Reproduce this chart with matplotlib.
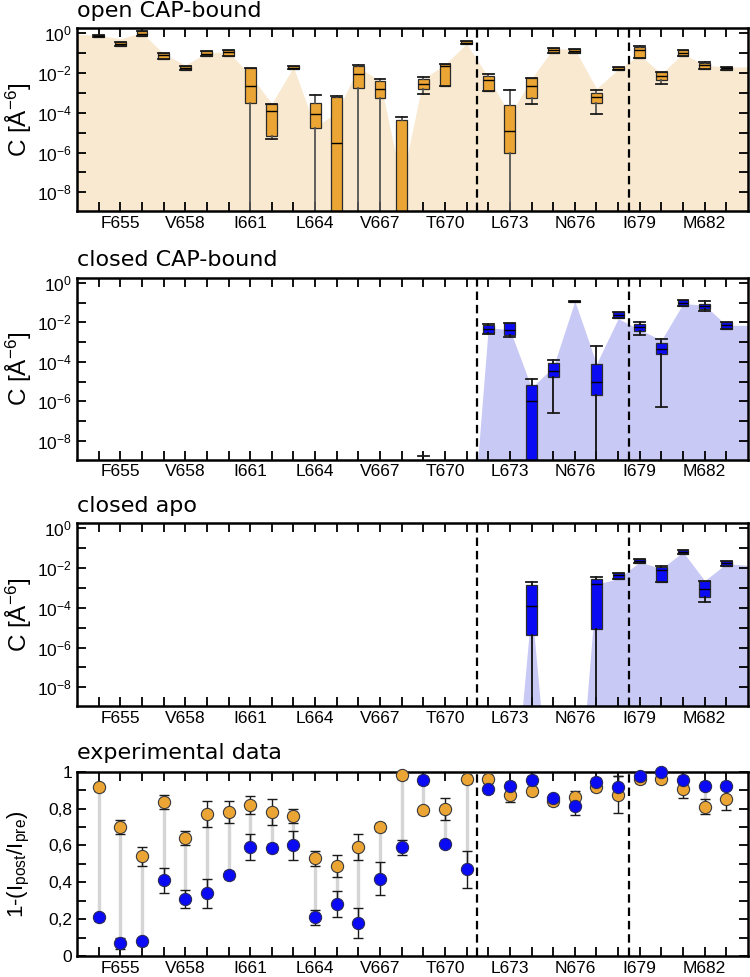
import numpy as np
import matplotlib
matplotlib.use("Agg")
import matplotlib.pyplot as plt
from matplotlib.ticker import FixedLocator, FuncFormatter, MultipleLocator

plt.rcParams['font.family'] = ['Liberation Sans', 'DejaVu Sans']
plt.rcParams['mathtext.fontset'] = 'custom'
plt.rcParams['mathtext.rm'] = 'Liberation Sans'
plt.rcParams['mathtext.it'] = 'Liberation Sans:italic'
plt.rcParams['mathtext.bf'] = 'Liberation Sans:bold'

# ---------------- data ----------------
residues = list(range(654, 684))            # box / point positions
area_residues = list(range(653, 685))       # shaded profile positions
label_residues = [655, 658, 661, 664, 667, 670, 673, 676, 679, 682]
label_names = ['F655', 'V658', 'I661', 'L664', 'V667', 'T670', 'L673', 'N676', 'I679', 'M682']
boundaries = [671.5, 678.5]
titles = ['open CAP-bound', 'closed CAP-bound', 'closed apo', 'experimental data']

N = None
# box statistics, log10 of C [Å^-6]; -20 = below the axis
open_med = [-0.13, -0.53, -0.02, -1.07, -1.72, -1.02, -0.94, -2.63, -3.89, -1.72, -4.04, -5.53, -2.03, -2.78, -12,
            -2.53, -1.66, -0.47, -2.33, -4.92, -2.65, -0.85, -0.87, -3.2, -1.77, -0.85, -2.14, -1.0, -1.61, -1.75]
open_q1 = [-0.16, -0.62, -0.13, -1.27, -1.83, -1.14, -1.16, -3.5, -5.18, -1.79, -4.74, -20, -2.73, -3.23, -20,
           -2.78, -2.66, -0.54, -2.91, -6.0, -3.25, -0.99, -0.99, -3.48, -1.86, -1.22, -2.36, -1.16, -1.79, -1.83]
open_q3 = [-0.1, -0.43, 0.1, -1.0, -1.64, -0.9, -0.85, -1.74, -3.55, -1.66, -3.48, -3.2, -1.64, -2.41, -4.34,
           -2.28, -1.56, -0.4, -2.16, -3.63, -2.24, -0.74, -0.77, -3.0, -1.69, -0.69, -1.94, -0.85, -1.47, -1.68]
open_wlo = [-0.16, -0.62, -0.13, -1.27, -1.83, -1.14, -1.16, -20, -5.33, -1.79, -20, -20, -20, -20, -20,
            -3.07, -2.66, -0.54, -2.91, -20, -3.57, -0.99, -0.99, -4.04, -1.86, -1.22, -2.53, -1.16, -1.79, -1.83]
open_whi = [-0.1, -0.43, 0.1, -1.0, -1.64, -0.9, -0.85, -1.74, -3.55, -1.66, -3.1, -3.15, -1.57, -2.28, -4.2,
            -2.19, -1.52, -0.4, -2.04, -2.86, -2.24, -0.74, -0.77, -2.83, -1.69, -0.64, -1.94, -0.85, -1.44, -1.68]
open_area = [-0.05, -0.1, -0.27, 0.03, -1.02, -1.6, -0.97, -0.94, -2.1, -3.53, -1.7, -4.7, -4.0, -1.7, -2.4, -7.5,
             -2.28, -1.57, -0.52, -2.2, -4.1, -2.28, -0.77, -0.8, -2.78, -1.81, -1.1, -2.03, -1.02, -1.6, -1.69, -1.69]

closed_med = [N]*15 + [-12, N, N, -2.32, -2.37, -6.0, -4.44, -0.92, -5.03, -1.64, -2.24, -3.34, -1.0, -1.17, -2.15]
closed_q1 = [N]*15 + [-12, N, N, -2.54, -2.63, -20, -4.76, -0.95, -5.69, -1.78, -2.44, -3.59, -1.15, -1.3, -2.32]
closed_q3 = [N]*15 + [-12, N, N, -2.15, -2.03, -5.15, -4.05, -0.9, -4.12, -1.47, -2.07, -3.05, -0.88, -1.05, -1.98]
closed_wlo = [N]*15 + [-12, N, N, -2.6, -2.75, -20, -6.6, -0.95, -20, -1.78, -2.63, -6.3, -1.15, -1.41, -2.32]
closed_whi = [N]*15 + [-8.75, N, N, -2.1, -2.03, -4.88, -3.9, -0.9, -3.22, -1.47, -1.97, -2.86, -0.88, -0.93, -1.98]
closed_area = [N]*19 + [-2.27, -2.37, -5.3, -4.27, -0.92, -4.1, -1.81, -2.37, -2.9, -1.05, -1.13, -2.15, -2.15]

apo_med = [N]*20 + [-3.9, N, N, -2.8, -2.37, -1.63, -2.12, -1.19, -3.05, -1.75]
apo_q1 = [N]*20 + [-5.39, N, N, -5.05, -2.54, -1.75, -2.71, -1.29, -3.47, -1.88]
apo_q3 = [N]*20 + [-2.85, N, N, -2.54, -2.25, -1.53, -1.92, -1.1, -2.66, -1.66]
apo_wlo = [N]*20 + [-20, N, N, -20, -2.54, -1.75, -2.71, -1.29, -3.73, -1.88]
apo_whi = [N]*20 + [-2.68, N, N, -2.46, -2.25, -1.53, -1.9, -1.1, -2.64, -1.66]
apo_area = [N]*21 + [-3.9, N, N, -2.8, -2.54, -1.69, -2.03, -1.19, -2.63, -1.78, -1.86]

exp_open = [0.915, 0.70, 0.54, 0.835, 0.64, 0.77, 0.78, 0.82, 0.78, 0.76, 0.53, 0.49, 0.59, 0.70, 0.98,
            0.79, 0.80, 0.96, 0.96, 0.875, 0.895, 0.84, 0.865, 0.915, 0.875, 0.96, 0.96, 0.905, 0.81, 0.85]
exp_open_err = [0.02, 0.04, 0.05, 0.04, 0.04, 0.07, 0.06, 0.05, 0.07, 0.04, 0.04, 0.06, 0.07, 0.02, 0.02,
                0.02, 0.06, 0.02, 0.02, 0.04, 0.02, 0.02, 0.03, 0.02, 0.10, 0.02, 0.02, 0.05, 0.04, 0.06]
exp_closed = [0.21, 0.07, 0.08, 0.41, 0.31, 0.34, 0.44, 0.59, 0.585, 0.60, 0.21, 0.28, 0.18, 0.42, 0.59,
              0.955, 0.61, 0.47, 0.905, 0.925, 0.955, 0.855, 0.815, 0.945, 0.915, 0.975, 0.996, 0.955, 0.925, 0.925]
exp_closed_err = [0.02, 0.03, 0.02, 0.07, 0.05, 0.08, 0.02, 0.07, 0.02, 0.08, 0.04, 0.07, 0.08, 0.09, 0.04,
                  0.02, 0.02, 0.10, 0.02, 0.02, 0.02, 0.02, 0.05, 0.02, 0.06, 0.02, 0.02, 0.02, 0.02, 0.02]

# ---------------- style ----------------
ORANGE = '#EBA534'
ORANGE_AREA = '#F8E9D0'
BLUE = '#0A0AF5'
BLUE_AREA = '#C9C9F6'
FLOOR = -16   # profile value where no data

W, H = 750, 977
fig = plt.figure(figsize=(W / 100, H / 100), dpi=100)


def rect(top, bottom, left=77, right=748):
    return [left / W, 1 - bottom / H, (right - left) / W, (bottom - top) / H]


def set_ylabel(ax, text, size):
    ax.set_ylabel(text, fontsize=size)
    ax.yaxis.label.set_va('center')
    ax.yaxis.set_label_coords(-0.0864, 0.5)


def style_axes(ax):
    for s in ax.spines.values():
        s.set_linewidth(1.8)
    ax.set_xlim(653, 684)
    ax.xaxis.set_major_locator(FixedLocator(residues))
    ax.xaxis.set_major_formatter(FuncFormatter(
        lambda v, p: label_names[label_residues.index(int(round(v)))] if int(round(v)) in label_residues else ''))
    ax.tick_params(which='both', direction='in', top=True, right=True, length=6.5, width=1.3,
                   labelsize=12.5, pad=3.5)
    for b in boundaries:
        ax.axvline(b, color='black', lw=1.6, dashes=(3.8, 2.2), zorder=1.5)


def add_title(ax, title, off=8):
    ax.annotate(title, xy=(0, 1), xycoords='axes fraction', xytext=(0, off), textcoords='offset points',
                va='baseline', ha='left', fontsize=16, family='DejaVu Sans')


def log_axes(ax, title):
    ax.set_yscale('log')
    ax.set_ylim(10 ** -8.94, 10 ** 0.27)
    ax.yaxis.set_major_locator(FixedLocator([10.0 ** k for k in range(-8, 1)]))
    ax.yaxis.set_minor_locator(FixedLocator([]))
    ax.yaxis.set_major_formatter(FuncFormatter(
        lambda v, p: (r'$10^{%d}$' % int(round(np.log10(v)))) if int(round(np.log10(v))) % 2 == 0 else ''))
    set_ylabel(ax, r'C [Å$^{-6}$]', 17.5)
    style_axes(ax)
    add_title(ax, title)


def draw_boxes(ax, med, q1, q3, wlo, whi, area, fc, area_c, wcol):
    prof = [10.0 ** (a if a is not None else FLOOR) for a in area]
    ax.fill_between(area_residues, 1e-30, prof, color=area_c, lw=0, zorder=0.5)
    stats, pos = [], []
    for i, r in enumerate(residues):
        if med[i] is None:
            continue
        stats.append(dict(med=10.0 ** med[i], q1=10.0 ** q1[i], q3=10.0 ** q3[i],
                          whislo=10.0 ** wlo[i], whishi=10.0 ** whi[i], fliers=[]))
        pos.append(r)
    ax.bxp(stats, positions=pos, widths=0.5, capwidths=0.5, patch_artist=True, showfliers=False,
           manage_ticks=False,
           boxprops=dict(facecolor=fc, edgecolor='#2b2b2b', linewidth=0.9),
           medianprops=dict(color='black', linewidth=1.0),
           whiskerprops=dict(color=wcol, linewidth=1.3),
           capprops=dict(color='#1a1a1a', linewidth=1.3),
           zorder=2)


ax1 = fig.add_axes(rect(28, 211))
log_axes(ax1, titles[0])
draw_boxes(ax1, open_med, open_q1, open_q3, open_wlo, open_whi, open_area, ORANGE, ORANGE_AREA, '#555555')

ax2 = fig.add_axes(rect(277.5, 459.5))
log_axes(ax2, titles[1])
draw_boxes(ax2, closed_med, closed_q1, closed_q3, closed_wlo, closed_whi, closed_area, BLUE, BLUE_AREA, '#111111')

ax3 = fig.add_axes(rect(523, 706))
log_axes(ax3, titles[2])
draw_boxes(ax3, apo_med, apo_q1, apo_q3, apo_wlo, apo_whi, apo_area, BLUE, BLUE_AREA, '#111111')

# experimental panel
ax4 = fig.add_axes(rect(771.7, 956))
ax4.set_ylim(0, 1)
ax4.yaxis.set_major_locator(MultipleLocator(0.2))
ax4.yaxis.set_minor_locator(MultipleLocator(0.1))
ax4.yaxis.set_major_formatter(FuncFormatter(
    lambda v, p: ('%g' % round(v, 1)).replace('.', ',')))
style_axes(ax4)
ax4.tick_params(which='minor', direction='in', right=True, length=6.5, width=1.3)
set_ylabel(ax4, r'1-(I$_{\mathrm{post}}$/I$_{\mathrm{pre}}$)', 16)
add_title(ax4, titles[3], off=9)

ax4.vlines(residues, exp_closed, exp_open, color='#D5D5D5', lw=2.4, zorder=2)
ax4.errorbar(residues, exp_open, yerr=exp_open_err, fmt='none', ecolor='#1a1a1a', elinewidth=1.0,
             capsize=3.6, capthick=1.0, zorder=3)
ax4.errorbar(residues, exp_closed, yerr=exp_closed_err, fmt='none', ecolor='#1a1a1a', elinewidth=1.0,
             capsize=3.6, capthick=1.0, zorder=3)
ax4.plot(residues, exp_open, 'o', ms=8.8, mfc=ORANGE, mec='#3a3a3a', mew=0.8, ls='none', zorder=4,
         clip_on=False)
ax4.plot(residues, exp_closed, 'o', ms=8.8, mfc=BLUE, mec='#2a2a5a', mew=0.8, ls='none', zorder=5,
         clip_on=False)

fig.savefig('out.png', dpi=100)
